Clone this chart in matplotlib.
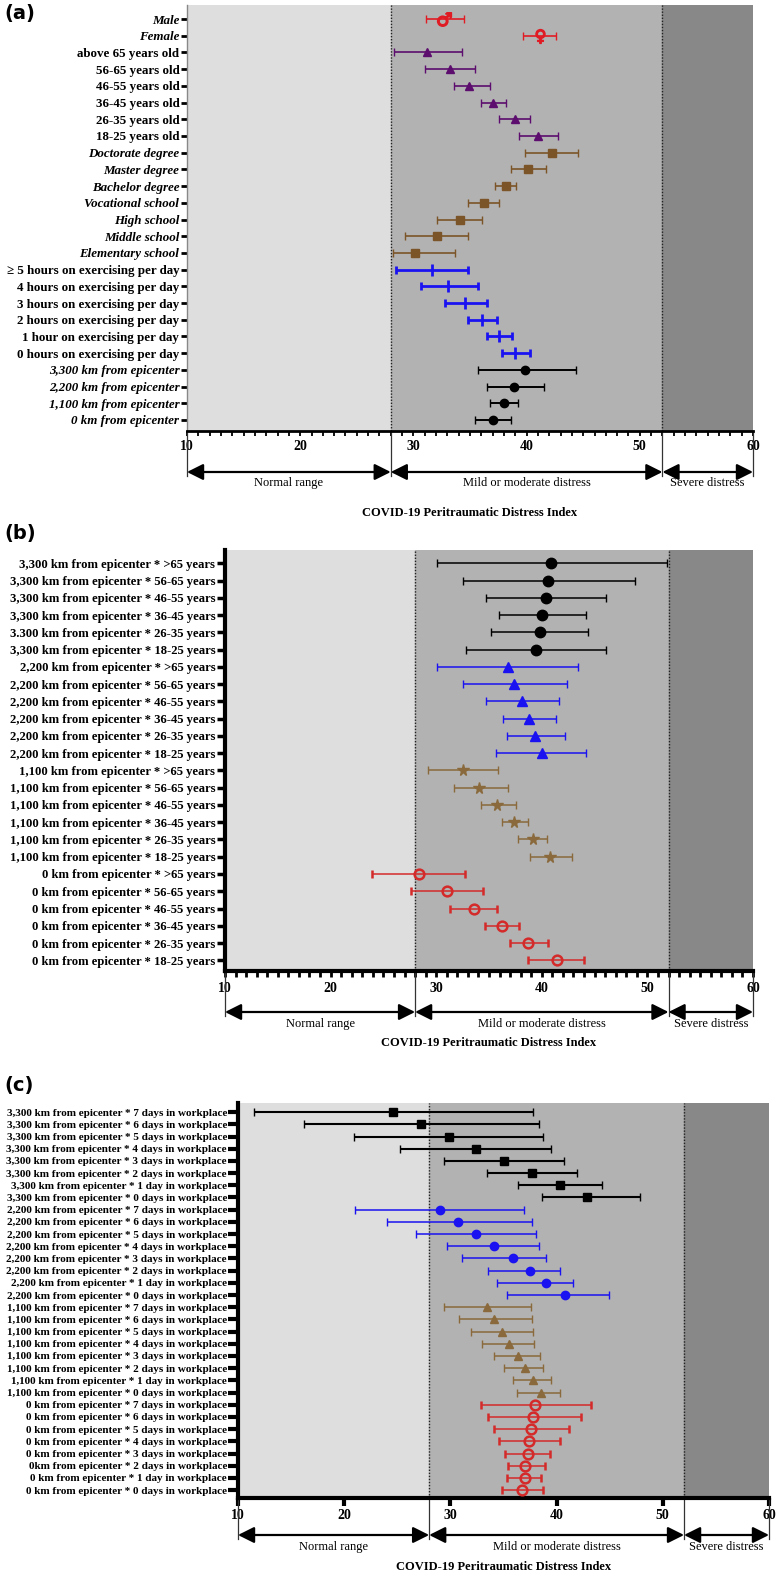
import matplotlib.pyplot as plt
import numpy as np

plt.rcParams['font.family'] = ['Liberation Serif', 'DejaVu Serif']

# ---------------- panel (a) ----------------
labels_a = ['Male', 'Female',
            'above 65 years old', '56-65 years old', '46-55 years old',
            '36-45 years old', '26-35 years old', '18-25 years old',
            'Doctorate degree', 'Master degree', 'Bachelor degree',
            'Vocational school', 'High school', 'Middle school', 'Elementary school',
            '≥ 5 hours on exercising per day', '4 hours on exercising per day',
            '3 hours on exercising per day', '2 hours on exercising per day',
            '1 hour on exercising per day', '0 hours on exercising per day',
            '3,300 km from epicenter', '2,200 km from epicenter',
            '1,100 km from epicenter', '0 km from epicenter']
mean_a = [32.7, 41.2, 31.2, 33.2, 34.9, 37.0, 39.0, 41.0, 42.2, 40.1, 38.2, 36.2, 34.1, 32.1, 30.1,
          31.6, 33.1, 34.6, 36.1, 37.6, 39.0, 39.9, 38.9, 38.0, 37.0]
low_a = [31.1, 39.7, 28.3, 31.0, 33.6, 36.0, 37.6, 39.3, 39.9, 38.6, 37.2, 34.8, 32.1, 29.3, 28.2,
         28.5, 30.7, 32.8, 34.8, 36.5, 37.8, 35.7, 36.5, 36.8, 35.4]
high_a = [34.5, 42.6, 34.3, 35.4, 36.8, 38.2, 40.3, 42.8, 44.5, 41.7, 39.1, 37.6, 36.1, 34.8, 33.7,
          34.8, 35.7, 36.5, 37.4, 38.7, 40.3, 44.4, 41.5, 39.2, 38.6]
italic_a = ['Male', 'Female', 'Doctorate degree', 'Master degree', 'Bachelor degree',
            'Vocational school', 'High school', 'Middle school', 'Elementary school',
            '3,300 km from epicenter', '2,200 km from epicenter',
            '1,100 km from epicenter', '0 km from epicenter']

# ---------------- panel (b) ----------------
dist_b = ['3,300', '3,300', '3,300', '3,300', '3.300', '3,300'] + ['2,200'] * 6 + ['1,100'] * 6 + ['0'] * 6
ages_b = ['>65', '56-65', '46-55', '36-45', '26-35', '18-25'] * 4
labels_b = [f'{d} km from epicenter * {a} years' for d, a in zip(dist_b, ages_b)]
mean_b = [40.9, 40.6, 40.4, 40.05, 39.8, 39.45,
          36.8, 37.4, 38.1, 38.8, 39.4, 40.0,
          32.5, 34.1, 35.8, 37.4, 39.2, 40.8,
          28.4, 31.0, 33.55, 36.2, 38.7, 41.4]
low_b = [30.05, 32.5, 34.7, 35.9, 35.2, 32.8,
         30.1, 32.5, 34.7, 36.3, 36.7, 35.7,
         29.2, 31.7, 34.2, 36.2, 37.7, 38.9,
         23.95, 27.6, 31.3, 34.6, 37.0, 38.7]
high_b = [51.9, 48.8, 46.05, 44.2, 44.4, 46.1,
          43.4, 42.4, 41.6, 41.3, 42.2, 44.2,
          35.85, 36.8, 37.6, 38.7, 40.5, 42.9,
          32.7, 34.4, 35.8, 37.8, 40.6, 44.0]

# ---------------- panel (c) ----------------
dist_c = ['3,300'] * 8 + ['2,200'] * 8 + ['1,100'] * 8 + ['0'] * 8
days_c = ['7 days', '6 days', '5 days', '4 days', '3 days', '2 days', '1 day', '0 days'] * 4
labels_c = [f'{d} km from epicenter * {w} in workplace' for d, w in zip(dist_c, days_c)]
labels_c[29] = '0km from epicenter * 2 days in workplace'
mean_c = [24.6, 27.2, 29.9, 32.4, 35.0, 37.7, 40.3, 42.9,
          29.0, 30.7, 32.4, 34.1, 35.9, 37.5, 39.0, 40.8,
          33.4, 34.1, 34.9, 35.5, 36.4, 37.0, 37.8, 38.5,
          38.0, 37.8, 37.6, 37.4, 37.3, 37.0, 37.0, 36.7]
low_c = [11.5, 16.2, 20.9, 25.3, 29.4, 33.4, 36.4, 38.6,
         21.0, 24.0, 26.8, 29.7, 31.1, 33.5, 34.4, 35.3,
         29.4, 30.8, 31.9, 33.0, 34.1, 35.0, 35.9, 36.3,
         32.9, 33.5, 34.1, 34.6, 35.1, 35.4, 35.3, 34.9]
high_c = [37.8, 38.3, 38.7, 39.5, 40.7, 41.9, 44.3, 47.9,
          36.9, 37.7, 38.1, 38.3, 39.0, 40.3, 41.5, 44.9,
          37.6, 37.7, 37.8, 37.9, 38.4, 38.7, 39.5, 40.3,
          43.2, 42.3, 41.2, 40.3, 39.4, 38.9, 38.5, 38.7]

ranges = [(10, 28, 'Normal range'), (28, 52, 'Mild or moderate distress'), (52, 60, 'Severe distress')]

W, H = 780, 1577
fig = plt.figure(figsize=(W / 100, H / 100), dpi=100)


def add_ax(left, top, right, bottom):
    return fig.add_axes([left / W, 1 - bottom / H, (right - left) / W, (bottom - top) / H])


def draw_panel(ax, labels, mean, low, high, groups, fs, top_pad, bot_pad, ytick_len, ytick_w, spine_w):
    n = len(labels)
    y = np.arange(n)
    mean, low, high = np.array(mean), np.array(low), np.array(high)
    ax.axvspan(10, 28, color='#dedede', zorder=0)
    ax.axvspan(28, 52, color='#b2b2b2', zorder=0)
    ax.axvspan(52, 60, color='#888888', zorder=0)
    for xv in (28, 52):
        ax.axvline(xv, color='#222222', ls=(0, (1, 1.2)), lw=1, zorder=1)
    for i0, i1, color, marker, ms, mfc, lw, mew in groups:
        s = slice(i0, i1)
        ax.errorbar(mean[s], y[s], xerr=[mean[s] - low[s], high[s] - mean[s]], fmt='', ls='none',
                    marker=marker, color=color, ms=ms, mfc=mfc, mec=color, mew=mew, elinewidth=lw,
                    capsize=3, capthick=lw, zorder=3)
    ax.set_xlim(10, 60)
    ax.set_ylim(n - 1 + bot_pad, -top_pad)
    ax.set_yticks(y)
    ax.set_yticklabels(labels, fontsize=fs, fontweight='bold')
    ax.tick_params(axis='y', length=ytick_len, width=ytick_w, pad=1)
    for sp in ('top', 'right'):
        ax.spines[sp].set_visible(False)
    ax.spines['left'].set_linewidth(spine_w)
    ax.spines['bottom'].set_linewidth(spine_w)
    ax.set_xticks([10, 20, 30, 40, 50, 60])
    ax.set_xticklabels(['10', '20', '30', '40', '50', '60'], fontsize=10, fontweight='bold')


def draw_ranges(ax, h_px, arrow_px, label_px, xlabel_px):
    tr = ax.get_xaxis_transform()
    ya = -arrow_px / h_px
    for xv in (10, 28, 52, 60):
        ax.plot([xv, xv], [0, ya - 4 / h_px], transform=tr, clip_on=False, color='#333333', lw=0.9)
    for a, b, name in ranges:
        ax.annotate('', xy=(b, ya), xytext=(a, ya), xycoords=tr, textcoords=tr,
                    arrowprops=dict(arrowstyle='<|-|>,head_length=0.7,head_width=0.35', color='black',
                                    lw=1.6, mutation_scale=14, shrinkA=0, shrinkB=0))
        ax.text((a + b) / 2, -label_px / h_px, name, transform=tr, ha='center', va='center', fontsize=9)
    ax.text(0.5, -xlabel_px / h_px, 'COVID-19 Peritraumatic Distress Index', transform=ax.transAxes,
            ha='center', va='center', fontsize=9, fontweight='bold')


# panel (a)
ax_a = add_ax(187, 5, 753, 431)
groups_a = [(0, 1, '#e01b24', '$\u2642$', 10, '#e01b24', 1.2, 1),
            (1, 2, '#e01b24', '$\u2640$', 10, '#e01b24', 1.2, 1),
            (2, 8, '#5c0d6e', '^', 6, '#5c0d6e', 1.2, 1),
            (8, 15, '#7b5428', 's', 6, '#7b5428', 1.2, 1),
            (15, 21, '#1a12f0', '|', 8, '#1a12f0', 2.0, 2),
            (21, 25, 'black', 'o', 6, 'black', 1.4, 1)]
draw_panel(ax_a, labels_a, mean_a, low_a, high_a, groups_a, 9.4, 0.84, 0.66, 4.5, 2, 2)
ax_a.spines['left'].set_color('#888888')
ax_a.spines['left'].set_linewidth(1)
for t in ax_a.get_yticklabels():
    if t.get_text() in italic_a:
        t.set_fontstyle('italic')
ax_a.set_xticks(np.arange(10, 61, 1), minor=True)
ax_a.tick_params(axis='x', which='both', length=3.5, width=1.3, pad=3)
draw_ranges(ax_a, 426, 41, 52, 82)
fig.text(4 / W, 1 - 14 / H, '(a)', fontsize=14, fontweight='bold', family='DejaVu Sans', va='center')

# panel (b)
ax_b = add_ax(225, 550, 753, 971)
groups_b = [(0, 6, 'black', 'o', 7.5, 'black', 1.1, 1),
            (6, 12, '#1a12f0', '^', 7.5, '#1a12f0', 1.1, 1),
            (12, 18, '#8a6a3c', '*', 8.5, '#8a6a3c', 1.1, 1),
            (18, 24, '#d42a2a', 'o', 7, 'none', 1.1, 1.8)]
draw_panel(ax_b, labels_b, mean_b, low_b, high_b, groups_b, 9.1, 0.77, 0.62, 6, 2.5, 3)
ax_b.set_xticks(np.arange(10, 61, 1), minor=True)
ax_b.tick_params(axis='x', which='both', length=4.5, width=2, pad=3.5)
draw_ranges(ax_b, 421, 41, 53, 72)
fig.text(4 / W, 1 - 533 / H, '(b)', fontsize=14, fontweight='bold', family='DejaVu Sans', va='center')

# panel (c)
ax_c = add_ax(238, 1103, 769, 1498)
groups_c = [(0, 8, 'black', 's', 6, 'black', 1.5, 1),
            (8, 16, '#1a12f0', 'o', 6, '#1a12f0', 1.1, 1),
            (16, 24, '#8a6a3c', '^', 5.5, '#8a6a3c', 1.1, 1),
            (24, 32, '#d42a2a', 'o', 7, 'none', 1.1, 1.8)]
draw_panel(ax_c, labels_c, mean_c, low_c, high_c, groups_c, 8.0, 0.75, 0.65, 7, 3, 3)
ax_c.tick_params(axis='x', length=6, width=3, pad=2)
draw_ranges(ax_c, 395, 37, 49, 69)
fig.text(4 / W, 1 - 1085 / H, '(c)', fontsize=14, fontweight='bold', family='DejaVu Sans', va='center')

fig.savefig('out.png', dpi=100)
